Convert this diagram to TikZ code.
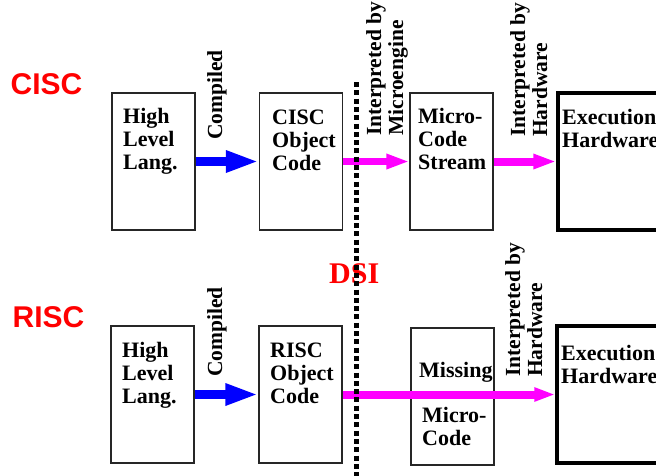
\documentclass[tikz,border=0pt]{standalone}
\usepackage{fontspec}
\setmainfont{Liberation Serif}
\newfontfamily\labelsans{Liberation Sans}
\usetikzlibrary{arrows.meta}
\definecolor{cred}{RGB}{255,0,0}
\definecolor{cmag}{RGB}{255,0,255}
\definecolor{cblue}{RGB}{0,0,255}
\tikzset{
  box/.style={draw=black!85, line width=1.2pt, minimum width=83pt, minimum height=137pt, inner sep=0pt},
  hwbox/.style={draw=black, line width=3.5pt, minimum width=150pt, minimum height=137pt, inner sep=0pt},
  boxtext/.style={anchor=north west, inner sep=0pt, align=left, font=\bfseries\fontsize{22}{23}\selectfont},
  vlabel/.style={anchor=north west, inner sep=0pt, align=left, rotate=90, font=\bfseries\fontsize{21.5}{22}\selectfont},
  rowlabel/.style={text=cred, font=\labelsans\bfseries\fontsize{30}{30}\selectfont, inner sep=0pt},
  bluearrow/.style={draw=cblue, line width=9pt, -{Triangle[length=33pt, width=20pt]}},
  magarrow/.style={draw=cmag, line width=#1, -{Triangle[length=23pt, width=14pt]}},
  magarrow/.default=7.5pt,
  dsiline/.style={draw=black, line width=5pt, dash pattern=on 5pt off 3.3pt}
}
\begin{document}
\begin{tikzpicture}[x=1pt, y=-1pt]
\useasboundingbox (0,0) rectangle (656,475);
\clip (0,0) rectangle (656,475);
% row labels
\node[rowlabel] (cisc) at (46.5,84) {CISC};
\node[rowlabel] (risc) at (48.5,317) {RISC};
\node[anchor=base west, inner sep=0pt, text=cred, font=\bfseries\fontsize{30}{30}\selectfont] (dsi) at (329,283) {DSI};

% top row boxes
\node[box] (hll1) at (153.5,161.5) {};
\node[box] (obj1) at (301,161.5) {};
\node[box] (mc1) at (451.5,161.5) {};
\node[hwbox] (ex1) at (633,161.5) {};
\node[boxtext] (thll1) at (123,108.5) {High\\Level\\Lang.};
\node[boxtext] (tobj1) at (272,110) {CISC\\Object\\Code};
\node[boxtext] (tmc1) at (418,108) {Micro-\\Code\\Stream};
\node[boxtext] (tex1) at (562,109) {Execution\\Hardware};

% bottom row boxes
\node[box] (hll2) at (152.5,394.5) {};
\node[box] (obj2) at (300.5,394.5) {};
\node[box] (mc2) at (452.5,396.5) {};
\node[hwbox] (ex2) at (632,394.5) {};
\node[boxtext] (thll2) at (122,342) {High\\Level\\Lang.};
\node[boxtext] (tobj2) at (270,343) {RISC\\Object\\Code};
\node[boxtext] (tmiss) at (419,362) {Missing};
\node[boxtext] (tmc2) at (422,407) {Micro-\\Code};
\node[boxtext] (tex2) at (561,345) {Execution\\Hardware};

% rotated labels
\node[vlabel] (comp1) at (207,140) {Compiled};
\node[vlabel] (comp2) at (207,377) {Compiled};
\node[vlabel] (imic) at (366,136) {Interpreted by\\Microengine};
\node[vlabel] (ihw1) at (510,137) {Interpreted by\\Hardware};
\node[vlabel] (ihw2) at (505,377) {Interpreted by\\Hardware};

% arrows
\draw[bluearrow] (hll1) -- (obj1);
\draw[bluearrow] (hll2) -- (obj2);
\draw[magarrow] (obj1) -- (mc1);
\draw[magarrow=8pt] (mc1) -- (ex1.west);
\draw[draw=cmag, line width=8pt, -{Triangle[length=21pt, width=13pt]}] (obj2.east) -- (ex2.west);

% DSI dotted line
\coordinate (dsitop) at (356.5,82);
\coordinate (dsibot) at (356.5,476);
\draw[dsiline] (dsitop) -- (dsibot);
\end{tikzpicture}
\end{document}
